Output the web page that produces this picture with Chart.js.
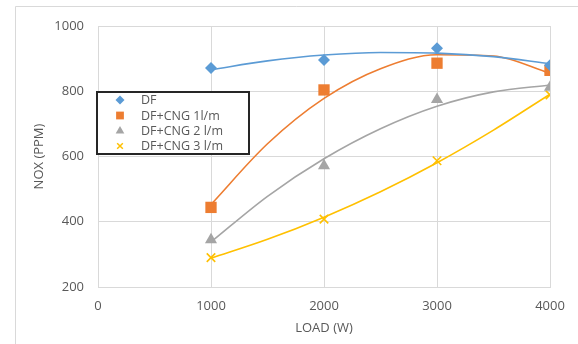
<!DOCTYPE html>
<html>
<head>
<meta charset="utf-8">
<script src="https://cdn.jsdelivr.net/npm/chart.js@4/dist/chart.umd.min.js"></script>
<style>
  html, body { margin: 0; padding: 0; background: #fff; }
  #wrap { width: 578px; height: 344px; }
</style>
</head>
<body>
<div id="wrap"><canvas id="myChart" width="578" height="344"></canvas></div>
<script>
// 測定点
const loads = [1000, 2000, 3000, 4000];
const dfValues = [871, 896, 932, 880];
const cng1Values = [444, 804, 886, 864];
const cng2Values = [345, 572, 775, 812];
const cng3Values = [290, 408, 587, 789];

// 近似曲線
const trendLoads = [1000, 1500, 2000, 2500, 3000, 3500, 4000];
const dfTrend = [866, 893, 911, 919, 917, 906, 884];
const cng1Trend = [453, 639, 778, 869, 912, 908, 855];
const cng2Trend = [338, 478, 593, 685, 754, 798, 819];
const cng3Trend = [288, 346, 414, 492, 581, 681, 791];

const xTicks = [0, 1000, 2000, 3000, 4000];
const yTicks = [200, 400, 600, 800, 1000];

const labels = ['DF', 'DF+CNG 1l/m', 'DF+CNG 2 l/m', 'DF+CNG 3 l/m'];
const colors = ['#5B9BD5', '#ED7D31', '#A5A5A5', '#FFC000'];
const styles = ['rectRot', 'rect', 'triangle', 'crossRot'];
const radii = [6, 8, 7, 6];

const pts = (xs, ys) => xs.map((x, i) => ({ x: x, y: ys[i] }));

const pointSets = [dfValues, cng1Values, cng2Values, cng3Values];
const trendSets = [dfTrend, cng1Trend, cng2Trend, cng3Trend];

const datasets = [];
pointSets.forEach((vals, i) => {
    datasets.push({
        label: labels[i],
        data: pts(loads, vals),
        showLine: false,
        pointStyle: styles[i],
        pointRadius: radii[i],
        pointHoverRadius: radii[i],
        backgroundColor: colors[i],
        borderColor: colors[i],
        pointBorderWidth: i === 3 ? 1.6 : 0,
        order: 0
    });
});
trendSets.forEach((vals, i) => {
    datasets.push({
        label: labels[i] + ' trend',
        data: pts(trendLoads, vals),
        showLine: true,
        pointRadius: 0,
        borderColor: colors[i],
        borderWidth: 1.6,
        cubicInterpolationMode: 'monotone',
        fill: false,
        order: 1
    });
});

// 外枠と凡例
const framePlugin = {
    id: 'frame',
    beforeDraw(chart) {
        const ctx = chart.ctx;
        ctx.save();
        ctx.fillStyle = '#fff';
        ctx.fillRect(0, 0, chart.width, chart.height);
        ctx.strokeStyle = '#d9d9d9';
        ctx.lineWidth = 1;
        ctx.beginPath();
        ctx.moveTo(15.5, chart.height);
        ctx.lineTo(15.5, 6.5);
        ctx.lineTo(chart.width, 6.5);
        ctx.stroke();
        ctx.restore();
    },
    afterDraw(chart) {
        const ctx = chart.ctx;
        ctx.save();
        ctx.fillStyle = '#fff';
        ctx.fillRect(97, 92, 152, 62);
        ctx.strokeStyle = '#262626';
        ctx.lineWidth = 2;
        ctx.strokeRect(97, 92, 152, 62);
        ctx.font = '12.5px "Open Sans", sans-serif';
        ctx.textBaseline = 'middle';
        const rows = [100, 115.5, 131, 146];
        const lr = [4.5, 5.5, 5, 4];
        labels.forEach((t, i) => {
            ctx.fillStyle = colors[i];
            ctx.strokeStyle = colors[i];
            ctx.lineWidth = i === 3 ? 1.5 : 0.01;
            Chart.helpers.drawPoint(ctx, { pointStyle: styles[i], radius: lr[i], rotation: 0, borderWidth: ctx.lineWidth }, 120, rows[i]);
            ctx.fillStyle = '#595959';
            ctx.fillText(t, 141, rows[i] + 0.5);
        });
        ctx.restore();
    }
};

const tickFont = { family: '"Open Sans", sans-serif', size: 13 };

const ctx = document.getElementById('myChart').getContext('2d');
const myChart = new Chart(ctx, {
    type: 'scatter',
    data: { datasets: datasets },
    plugins: [framePlugin],
    options: {
        responsive: false,
        animation: false,
        layout: { padding: { top: 26, right: 28, left: 0, bottom: 0 } },
        plugins: {
            legend: { display: false },
            tooltip: { enabled: false }
        },
        scales: {
            x: {
                type: 'linear',
                min: 0,
                max: 4000,
                afterBuildTicks: s => { s.ticks = xTicks.map(v => ({ value: v })); },
                afterFit: s => { s.height = 57; },
                grid: { color: '#d9d9d9', drawTicks: false },
                border: { color: '#d9d9d9' },
                ticks: { padding: 11, color: '#595959', font: tickFont, callback: v => String(v) },
                title: {
                    display: true,
                    text: 'LOAD (W)',
                    color: '#595959',
                    padding: { top: 0, bottom: 8 },
                    font: tickFont
                }
            },
            y: {
                min: 200,
                max: 1000,
                afterBuildTicks: s => { s.ticks = yTicks.map(v => ({ value: v })); },
                afterFit: s => { s.width = 98; },
                grid: { color: '#d9d9d9', drawTicks: false },
                border: { color: '#d9d9d9' },
                ticks: { padding: 14, color: '#595959', font: tickFont, callback: v => String(v) },
                title: {
                    display: true,
                    text: 'NOX (PPM)',
                    color: '#595959',
                    padding: { top: 31, bottom: 0 },
                    font: tickFont
                }
            }
        }
    }
});
</script>
</body>
</html>
